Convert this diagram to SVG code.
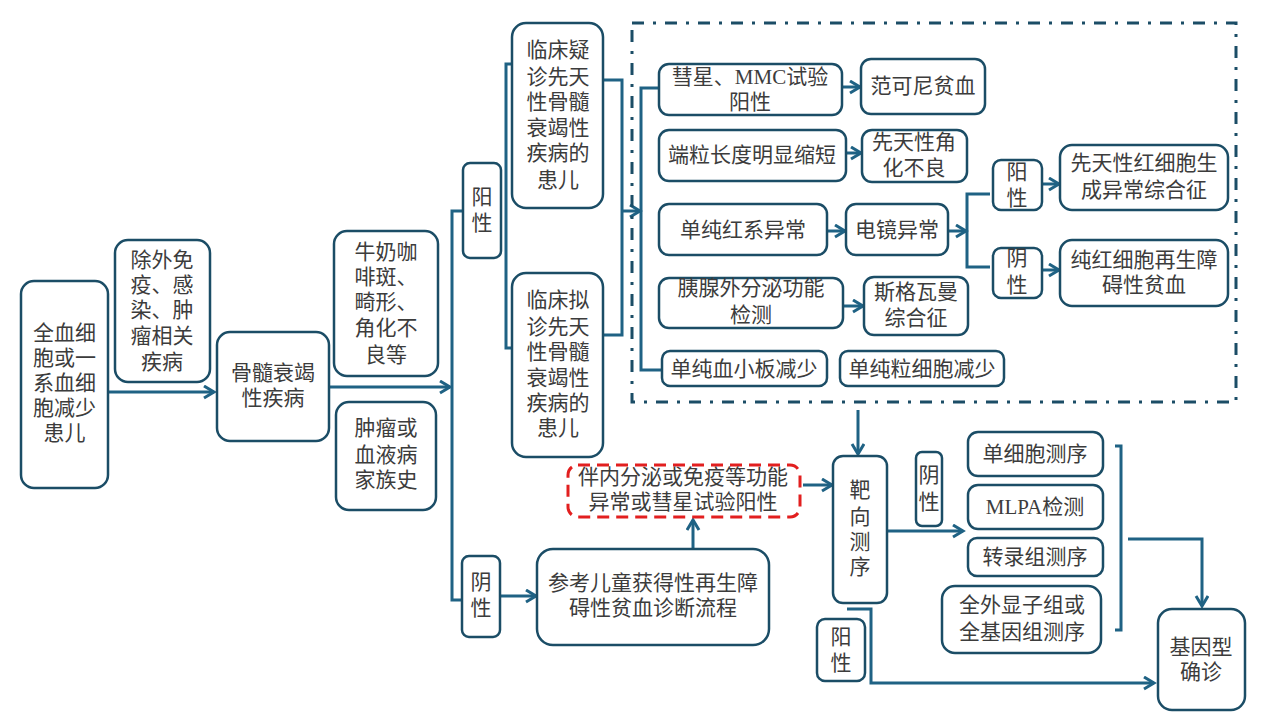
<svg xmlns="http://www.w3.org/2000/svg" width="1280" height="720" viewBox="0 0 1280 720">
<defs>
<style>
.b{fill:#ffffff;stroke:#1b4d66;stroke-width:2.5}
.t{font-family:"Liberation Serif","Noto Sans CJK SC",serif;font-size:21px;fill:#3c3c3c;text-anchor:middle}
.c{fill:none;stroke:#1f6284;stroke-width:3}
.a{marker-end:url(#ah)}
</style>
<marker id="ah" markerUnits="userSpaceOnUse" markerWidth="14" markerHeight="16" refX="11" refY="7" orient="auto">
<path d="M1,1 L11,7 L1,13" fill="none" stroke="#1f6284" stroke-width="3"/>
</marker>
</defs>
<rect width="1280" height="720" fill="#ffffff"/>

<g id="connectors">
<path class="c a" d="M108 392 H214"/>
<path class="c a" d="M329 387 H450"/>
<path class="c" d="M463 211 H452 V600 H463"/>
<path class="c" d="M512 64 H506 V348 H512"/>
<path class="c" d="M603 80 H622 V335 H603"/>
<path class="c a" d="M622 211 H640"/>
<path class="c" d="M659 88 H641 V370 H662"/>
<path class="c a" d="M842 87 H860"/>
<path class="c a" d="M846 153 H861"/>
<path class="c a" d="M827 231 H845"/>
<path class="c a" d="M843 306 H863"/>
<path class="c a" d="M948 231 H966"/>
<path class="c" d="M990 194 H967 V267 H990"/>
<path class="c a" d="M1042 184 H1059"/>
<path class="c a" d="M1042 270 H1059"/>
<path class="c a" d="M500 596 H536"/>
<path class="c a" d="M693 549 V520"/>
<path class="c a" d="M803 485 H832"/>
<path class="c a" d="M858 410 V454"/>
<path class="c a" d="M887 531 H963"/>
<path class="c" d="M1115 446 H1121 V630 H1115"/>
<path class="c a" d="M1128 539 H1202 V606"/>
<path class="c a" d="M847 609 H871 V683 H1154"/>
</g>

<g id="dashbox"><rect x="632" y="23" width="604" height="379" fill="none" stroke="#1b4d66" stroke-width="3" stroke-dasharray="12 9 3 9"/></g>

<g id="n1"><rect class="b" x="21" y="281" width="87" height="207" rx="13"/>
<text class="t" x="64.5" y="340">全血细</text><text class="t" x="64.5" y="365">胞或一</text><text class="t" x="64.5" y="390">系血细</text><text class="t" x="64.5" y="415">胞减少</text><text class="t" x="64.5" y="440">患儿</text></g>

<g id="n2"><rect class="b" x="115" y="240" width="95" height="142" rx="13"/>
<text class="t" x="162" y="267">除外免</text><text class="t" x="162" y="292">疫、感</text><text class="t" x="162" y="317">染、肿</text><text class="t" x="162" y="343">瘤相关</text><text class="t" x="162" y="369">疾病</text></g>

<g id="n3"><rect class="b" x="217" y="332" width="112" height="109" rx="13"/>
<text class="t" x="273" y="380">骨髓衰竭</text><text class="t" x="273" y="405">性疾病</text></g>

<g id="n4"><rect class="b" x="334" y="231" width="104" height="145" rx="13"/>
<text class="t" x="386" y="259">牛奶咖</text><text class="t" x="386" y="284">啡斑、</text><text class="t" x="386" y="309">畸形、</text><text class="t" x="386" y="335">角化不</text><text class="t" x="386" y="362">良等</text></g>

<g id="n5"><rect class="b" x="336" y="402" width="100" height="108" rx="13"/>
<text class="t" x="386" y="435">肿瘤或</text><text class="t" x="386" y="462">血液病</text><text class="t" x="386" y="487">家族史</text></g>

<g id="pos1"><rect class="b" x="463" y="163" width="38" height="95" rx="7"/>
<text class="t" x="482" y="204">阳</text><text class="t" x="482" y="230">性</text></g>

<g id="n6"><rect class="b" x="512" y="23" width="91" height="185" rx="14"/>
<text class="t" x="558" y="57">临床疑</text><text class="t" x="558" y="84">诊先天</text><text class="t" x="558" y="109">性骨髓</text><text class="t" x="558" y="135">衰竭性</text><text class="t" x="558" y="160">疾病的</text><text class="t" x="558" y="187">患儿</text></g>

<g id="n7"><rect class="b" x="512" y="273" width="91" height="184" rx="14"/>
<text class="t" x="558" y="307">临床拟</text><text class="t" x="558" y="334">诊先天</text><text class="t" x="558" y="359">性骨髓</text><text class="t" x="558" y="385">衰竭性</text><text class="t" x="558" y="410">疾病的</text><text class="t" x="558" y="435">患儿</text></g>

<g id="n8"><rect class="b" x="659" y="64" width="183" height="51" rx="10"/>
<text class="t" x="750" y="84">彗星、MMC试验</text><text class="t" x="750" y="109">阳性</text></g>

<g id="n9"><rect class="b" x="659" y="130" width="187" height="51" rx="10"/>
<text class="t" x="752" y="162">端粒长度明显缩短</text></g>

<g id="n10"><rect class="b" x="659" y="204" width="168" height="51" rx="10"/>
<text class="t" x="743" y="237">单纯红系异常</text></g>

<g id="n11"><rect class="b" x="659" y="278" width="184" height="50" rx="10"/>
<text class="t" x="751" y="295">胰腺外分泌功能</text><text class="t" x="751" y="322">检测</text></g>

<g id="n12"><rect class="b" x="662" y="351" width="165" height="35" rx="8"/>
<text class="t" x="744" y="376">单纯血小板减少</text></g>

<g id="n13"><rect class="b" x="840" y="351" width="164" height="35" rx="8"/>
<text class="t" x="922" y="376">单纯粒细胞减少</text></g>

<g id="n14"><rect class="b" x="861" y="59" width="124" height="55" rx="10"/>
<text class="t" x="923" y="93">范可尼贫血</text></g>

<g id="n15"><rect class="b" x="862" y="130" width="105" height="52" rx="10"/>
<text class="t" x="914" y="149">先天性角</text><text class="t" x="914" y="175">化不良</text></g>

<g id="n16"><rect class="b" x="846" y="204" width="102" height="51" rx="10"/>
<text class="t" x="897" y="237">电镜异常</text></g>

<g id="n17"><rect class="b" x="864" y="277" width="104" height="58" rx="10"/>
<text class="t" x="916" y="299">斯格瓦曼</text><text class="t" x="916" y="325">综合征</text></g>

<g id="pos2"><rect class="b" x="993" y="160" width="49" height="50" rx="8"/>
<text class="t" x="1017" y="179">阳</text><text class="t" x="1017" y="205">性</text></g>

<g id="neg2"><rect class="b" x="993" y="248" width="49" height="50" rx="8"/>
<text class="t" x="1017" y="265">阴</text><text class="t" x="1017" y="292">性</text></g>

<g id="n18"><rect class="b" x="1060" y="145" width="168" height="65" rx="12"/>
<text class="t" x="1144" y="170">先天性红细胞生</text><text class="t" x="1144" y="197">成异常综合征</text></g>

<g id="n19"><rect class="b" x="1060" y="240" width="168" height="66" rx="12"/>
<text class="t" x="1144" y="267">纯红细胞再生障</text><text class="t" x="1144" y="292">碍性贫血</text></g>

<g id="neg1"><rect class="b" x="462" y="556" width="38" height="81" rx="7"/>
<text class="t" x="481" y="589">阴</text><text class="t" x="481" y="615">性</text></g>

<g id="n20"><rect class="b" x="537" y="549" width="232" height="96" rx="16"/>
<text class="t" x="653" y="590">参考儿童获得性再生障</text><text class="t" x="653" y="615">碍性贫血诊断流程</text></g>

<g id="n21"><rect x="568" y="465" width="232" height="52" rx="10" fill="#ffffff" stroke="#e21f1f" stroke-width="3" stroke-dasharray="12 7"/>
<text class="t" x="683" y="484">伴内分泌或免疫等功能</text><text class="t" x="683" y="509">异常或彗星试验阳性</text></g>

<g id="n22"><rect class="b" x="833" y="456" width="54" height="147" rx="10"/>
<text class="t" x="860" y="497">靶</text><text class="t" x="860" y="524">向</text><text class="t" x="860" y="549">测</text><text class="t" x="860" y="574">序</text></g>

<g id="neg3"><rect class="b" x="916" y="452" width="26" height="74" rx="6"/>
<text class="t" x="929" y="482">阴</text><text class="t" x="929" y="509">性</text></g>

<g id="n23"><rect class="b" x="968" y="432" width="135" height="44" rx="10"/>
<text class="t" x="1035" y="461">单细胞测序</text></g>

<g id="n24"><rect class="b" x="968" y="485" width="135" height="44" rx="10"/>
<text class="t" x="1035" y="514">MLPA检测</text></g>

<g id="n25"><rect class="b" x="968" y="538" width="135" height="38" rx="9"/>
<text class="t" x="1035" y="564">转录组测序</text></g>

<g id="n26"><rect class="b" x="942" y="586" width="159" height="67" rx="13"/>
<text class="t" x="1022" y="612">全外显子组或</text><text class="t" x="1022" y="639">全基因组测序</text></g>

<g id="pos3"><rect class="b" x="817" y="619" width="48" height="62" rx="8"/>
<text class="t" x="841" y="644">阳</text><text class="t" x="841" y="670">性</text></g>

<g id="n27"><rect class="b" x="1158" y="609" width="87" height="101" rx="14"/>
<text class="t" x="1201" y="654">基因型</text><text class="t" x="1201" y="679">确诊</text></g>
</svg>
